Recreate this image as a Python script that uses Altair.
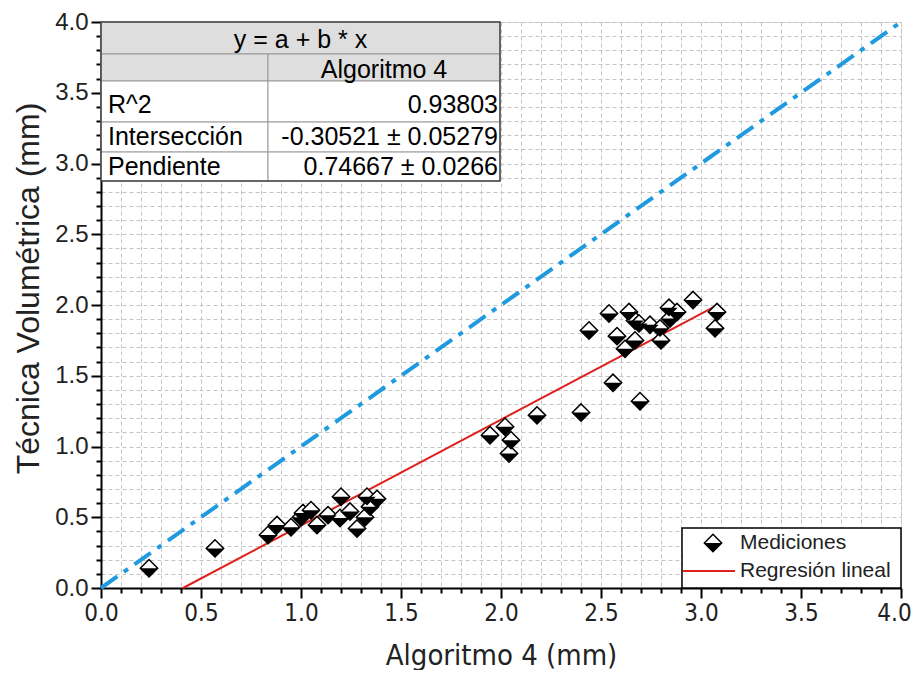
import altair as alt
import pandas as pd

# ---------------- data ----------------
alg = [0.24, 0.57, 0.835, 0.88, 0.95, 1.00, 1.01, 1.05, 1.08, 1.135, 1.195, 1.20,
       1.245, 1.28, 1.32, 1.33, 1.345, 1.38, 1.945, 2.02, 2.04, 2.05, 2.18, 2.40,
       2.44, 2.54, 2.56, 2.58, 2.62, 2.64, 2.67, 2.67, 2.69, 2.695, 2.745, 2.795,
       2.80, 2.84, 2.845, 2.88, 2.96, 3.07, 3.08]
vol = [0.14, 0.28, 0.375, 0.445, 0.43, 0.50, 0.53, 0.55, 0.445, 0.515, 0.495, 0.645,
       0.54, 0.42, 0.50, 0.645, 0.575, 0.63, 1.08, 1.14, 0.95, 1.045, 1.22, 1.24,
       1.82, 1.94, 1.45, 1.78, 1.69, 1.95, 1.75, 1.89, 1.87, 1.32, 1.86, 1.835,
       1.75, 1.98, 1.905, 1.95, 2.035, 1.835, 1.95]

fit_x = [0.41, 3.07]
fit_y = [0.0, 1.99]
ident_x = [0.0, 4.0]
ident_y = [0.0, 4.0]

tick_values = [round(i * 0.1, 1) for i in range(41)]

table_title = "y = a + b * x"
table_column = "Algoritmo 4"
table_rows = ["R^2", "Intersección", "Pendiente"]
table_values = ["0.93803", "-0.30521 ± 0.05279", "0.74667 ± 0.0266"]

legend_labels = ["Mediciones", "Regresión lineal"]

# ---------------- styling ----------------
BLUE = "#1f9ae0"
RED = "#e0201c"
FONT = "Liberation Sans"
NARROW = "Liberation Sans Narrow, Arial Narrow, DejaVu Sans Condensed, Roboto Condensed, Liberation Sans"

major = "abs(datum.value*2 - round(datum.value*2)) < 0.001"
label_expr = f"{major} ? format(datum.value, '.1f') : ''"
tick_size = {"condition": {"test": major, "value": 10}, "value": 5}
last_offset = {"condition": {"test": "datum.value > 3.95", "value": -7}, "value": 0}

scale = alt.Scale(domain=[0, 4], nice=False, zero=False)

ax_x = alt.Axis(values=tick_values, labelExpr=label_expr, tickSize=tick_size,
                tickWidth=2, tickColor="black", domainColor="black", domainWidth=2,
                grid=True, gridColor="#c4c4c4", gridDash=[4, 3], gridWidth=1,
                labelFont=NARROW, labelFontSize=24, labelColor="#222",
                labelOverlap=False, labelFlush=False, labelPadding=3,
                labelOffset=last_offset,
                titleFont=NARROW, titleFontSize=29, titleFontWeight="normal",
                titleColor="#222", titlePadding=16)
ax_y = alt.Axis(values=tick_values, labelExpr=label_expr, tickSize=tick_size,
                tickWidth=2, tickColor="black", domainColor="black", domainWidth=2,
                grid=True, gridColor="#c4c4c4", gridDash=[4, 3], gridWidth=1,
                labelFont=FONT, labelFontSize=24, labelColor="#222",
                labelOverlap=False, labelFlush=False, labelPadding=3,
                titleFont=FONT, titleFontSize=32, titleFontWeight="normal",
                titleColor="#222", titlePadding=9, titleY=266)

XT = "Algoritmo 4 (mm)"
YT = "Técnica Volumétrica (mm)"


def X(f):
    return alt.X(f, type="quantitative", scale=scale, axis=ax_x, title=XT)


def Y(f):
    return alt.Y(f, type="quantitative", scale=scale, axis=ax_y, title=YT)


# ---------------- annotation geometry (data units) ----------------
tb_x = [0.0, 0.835, 1.995]
tb_y = [4.0, 3.774, 3.583, 3.293, 3.081, 2.876]
tb_text_y = [3.873, 3.66, 3.413, 3.187, 2.975]

cells = pd.DataFrame({
    "x": [tb_x[0], tb_x[0], tb_x[1]] + [tb_x[0], tb_x[1]] * 3,
    "x2": [tb_x[2], tb_x[1], tb_x[2]] + [tb_x[1], tb_x[2]] * 3,
    "y": [tb_y[0], tb_y[1], tb_y[1], tb_y[2], tb_y[2], tb_y[3], tb_y[3], tb_y[4], tb_y[4]],
    "y2": [tb_y[1], tb_y[2], tb_y[2], tb_y[3], tb_y[3], tb_y[4], tb_y[4], tb_y[5], tb_y[5]],
    "fill": ["#dedede"] * 3 + ["#ffffff"] * 6,
})
outer = pd.DataFrame({"x": [tb_x[0]], "x2": [tb_x[2]], "y": [tb_y[0]], "y2": [tb_y[5]]})

head_df = pd.DataFrame({"x": [(tb_x[0] + tb_x[2]) / 2, (tb_x[1] + tb_x[2]) / 2],
                        "y": tb_text_y[:2], "t": [table_title, table_column]})
left_df = pd.DataFrame({"x": [0.035] * 3, "y": tb_text_y[2:], "t": table_rows})
right_df = pd.DataFrame({"x": [1.985] * 3, "y": tb_text_y[2:], "t": table_values})

pts = pd.DataFrame({"alg": alg, "vol": vol})
fit = pd.DataFrame({"x": fit_x, "y": fit_y})
ident = pd.DataFrame({"x": ident_x, "y": ident_y})

lg_box = pd.DataFrame({"x": [2.905], "x2": [4.0], "y": [0.0], "y2": [0.424]})
lg_sym = pd.DataFrame({"x": [3.06], "y": [0.318]})
lg_line = pd.DataFrame({"x": [2.91, 3.17], "y": [0.12, 0.12]})
lg_text = pd.DataFrame({"x": [3.195, 3.195], "y": [0.318, 0.12], "t": legend_labels})

HALF = "M-1,0L1,0L0,1Z"
SIZE = 300

layers = [
    alt.Chart(ident).mark_line(color=BLUE, strokeWidth=4, strokeDash=[20, 8, 5, 8])
    .encode(x=X("x"), y=Y("y")),
    alt.Chart(fit).mark_line(color=RED, strokeWidth=2).encode(x=X("x"), y=Y("y")),
    alt.Chart(pts).mark_point(shape="diamond", size=SIZE, filled=True, fill="white",
                              stroke="black", strokeWidth=1.5, opacity=1)
    .encode(x=X("alg"), y=Y("vol")),
    alt.Chart(pts).mark_point(shape=HALF, size=SIZE, filled=True, fill="black",
                              strokeWidth=0, opacity=1)
    .encode(x=X("alg"), y=Y("vol")),
    alt.Chart(cells).mark_rect(stroke="#9a9a9a", strokeWidth=1)
    .encode(x=X("x"), x2="x2", y=Y("y"), y2="y2", fill=alt.Fill("fill:N", scale=None)),
    alt.Chart(outer).mark_rect(fillOpacity=0, stroke="#444444", strokeWidth=1.5)
    .encode(x=X("x"), x2="x2", y=Y("y"), y2="y2"),
    alt.Chart(head_df).mark_text(font=FONT, fontSize=25, color="black", align="center",
                                 baseline="middle")
    .encode(x=X("x"), y=Y("y"), text="t:N"),
    alt.Chart(left_df).mark_text(font=FONT, fontSize=25, color="black", align="left",
                                 baseline="middle")
    .encode(x=X("x"), y=Y("y"), text="t:N"),
    alt.Chart(right_df).mark_text(font=FONT, fontSize=25, color="black", align="right",
                                  baseline="middle")
    .encode(x=X("x"), y=Y("y"), text="t:N"),
    alt.Chart(lg_box).mark_rect(fill="white", stroke="black", strokeWidth=1.5)
    .encode(x=X("x"), x2="x2", y=Y("y"), y2="y2"),
    alt.Chart(lg_sym).mark_point(shape="diamond", size=SIZE, filled=True, fill="white",
                                 stroke="black", strokeWidth=1.5, opacity=1)
    .encode(x=X("x"), y=Y("y")),
    alt.Chart(lg_sym).mark_point(shape=HALF, size=SIZE, filled=True, fill="black",
                                 strokeWidth=0, opacity=1)
    .encode(x=X("x"), y=Y("y")),
    alt.Chart(lg_line).mark_line(color=RED, strokeWidth=2).encode(x=X("x"), y=Y("y")),
    alt.Chart(lg_text).mark_text(font=FONT, fontSize=21, color="#222", align="left",
                                 baseline="middle")
    .encode(x=X("x"), y=Y("y"), text="t:N"),
]

chart = (
    alt.layer(*layers)
    .properties(width=800, height=566, autosize="none",
                padding={"left": 93, "top": 14, "right": 12, "bottom": 82})
    .configure_view(stroke="black", strokeWidth=2)
    .configure(background="white")
)

chart.save("out.html", embed_options={"renderer": "svg", "actions": False})
